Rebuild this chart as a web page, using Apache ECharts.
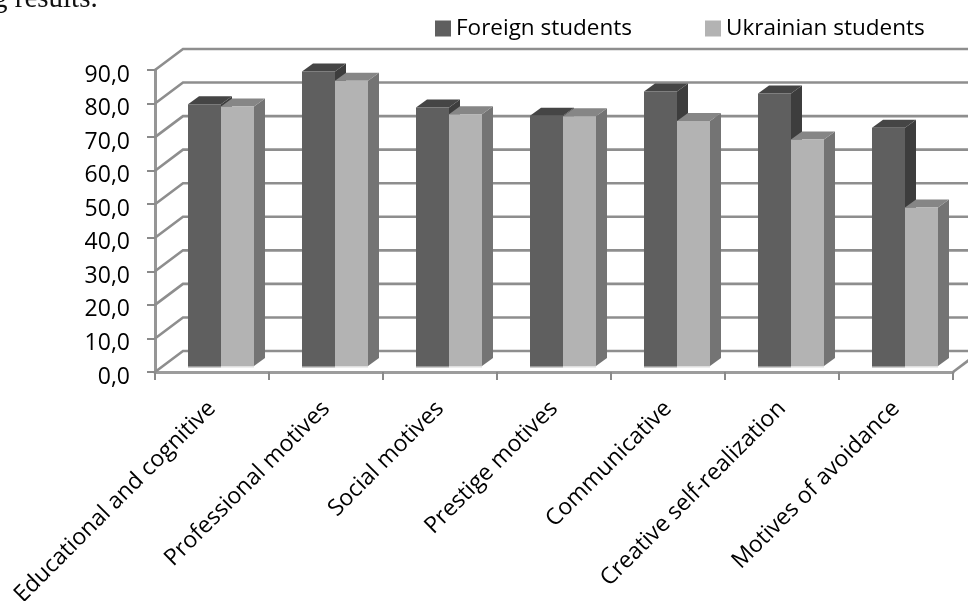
<!DOCTYPE html>
<html><head><meta charset="utf-8">
<style>html,body{margin:0;padding:0;background:#fff}#c{width:968px;height:601px}</style>
<script src="https://cdn.jsdelivr.net/npm/echarts@6/dist/echarts.min.js"></script>
</head><body><div id="c"></div>
<script>
const categories = ['Educational and cognitive','Professional motives','Social motives','Prestige motives','Communicative','Creative self-realization','Motives of avoidance'];
const foreignStudents = [78.0,87.8,77.0,74.6,81.8,81.2,71.0];
const ukrainianStudents = [77.3,85.0,75.0,74.4,73.0,67.5,47.2];
const yTicks = [0,10,20,30,40,50,60,70,80,90];
const seriesNames = ['Foreign students','Ukrainian students'];

const wallDx = 28, wallDy = -21, depthDx = 11, depthDy = -8;
const barW = 33, barShiftX = 9, barShiftY = -6;
const gridColor = '#8e8e8e';

function wall(params, api){
  const y = api.coord([0, api.value(0)])[1];
  const x0 = params.coordSys.x, ex = x0 + params.coordSys.width;
  const kids = [
    {type:'polyline', shape:{points:[[x0,y],[x0+wallDx,y+wallDy],[ex+wallDx,y+wallDy]]},
     style:{stroke:gridColor,lineWidth:2.6,fill:null}}
  ];
  if(api.value(0) === 0){
    kids.push({type:'line',shape:{x1:ex,y1:y,x2:ex+wallDx,y2:y+wallDy},style:{stroke:gridColor,lineWidth:2.6}});
  }
  return {type:'group',children:kids};
}
function barRenderer(seriesIdx, front, top, side){
  return function(params, api){
    const c = api.coord([api.value(0), api.value(1)]);
    const base = api.coord([api.value(0), 0]);
    const x0 = c[0] + barShiftX + (seriesIdx === 0 ? -barW : 0);
    const x1 = x0 + barW;
    const yT = c[1] + barShiftY, yB = base[1] + barShiftY;
    return {type:'group',children:[
      {type:'rect',shape:{x:x0,y:yB,width:barW,height:1.6},style:{fill:seriesIdx===0?'#9a9a9a':'#dedede'}},
      {type:'polygon',shape:{points:[[x1,yT],[x1+depthDx,yT+depthDy],[x1+depthDx,yB+depthDy],[x1,yB]]},style:{fill:side}},
      {type:'polygon',shape:{points:[[x0,yT],[x0+depthDx,yT+depthDy],[x1+depthDx,yT+depthDy],[x1,yT]]},style:{fill:top}},
      {type:'rect',shape:{x:x0,y:yT,width:barW,height:yB-yT},style:{fill:front}}
    ]};
  };
}
const chart = echarts.init(document.getElementById('c'),null,{renderer:'canvas'});
chart.setOption({
  animation:false,
  backgroundColor:'#fff',
  textStyle:{fontFamily:'Open Sans'},
  graphic:[{type:'text',left:-7,top:-15,style:{text:'g results.',font:'29px "Liberation Serif"',fill:'#111'}}],
  legend:{
    left:435,top:17,padding:0,itemWidth:16,itemHeight:16,itemGap:73,icon:'rect',
    data:seriesNames,
    textStyle:{fontFamily:'Open Sans',fontSize:22.5,color:'#000',padding:[0,0,0,0]}
  },
  grid:{left:155,right:15,top:70,bottom:229,containLabel:false,outerBoundsMode:'none'},
  xAxis:{
    type:'category',data:categories,boundaryGap:true,
    axisLine:{show:true,lineStyle:{color:'#9c9c9c',width:3}},
    axisTick:{show:true,alignWithLabel:false,length:8,lineStyle:{color:'#8a8a8a',width:2}},
    axisLabel:{rotate:45,interval:0,fontFamily:'Open Sans',fontSize:23,color:'#000',margin:33}
  },
  yAxis:{
    type:'value',min:0,max:90,interval:10,
    axisLine:{show:true,lineStyle:{color:'#969696',width:3}},
    axisTick:{show:true,length:8,lineStyle:{color:'#8a8a8a',width:2}},
    splitLine:{show:false},
    axisLabel:{fontFamily:'Open Sans',fontSize:23,color:'#000',margin:25,verticalAlign:'top',lineHeight:10,formatter:v=>v.toFixed(1).replace('.',',')}
  },
  series:[
    {type:'custom',name:'wall',silent:true,clip:false,z:1,encode:{y:0},data:yTicks.map(v=>[v]),renderItem:wall},
    {type:'custom',name:seriesNames[0],clip:false,z:2,itemStyle:{color:'#5f5f5f'},encode:{x:0,y:1},
     data:foreignStudents.map((v,i)=>[i,v]),renderItem:barRenderer(0,'#5f5f5f','#454545','#3d3d3d')},
    {type:'custom',name:seriesNames[1],clip:false,z:3,itemStyle:{color:'#b3b3b3'},encode:{x:0,y:1},
     data:ukrainianStudents.map((v,i)=>[i,v]),renderItem:barRenderer(1,'#b3b3b3','#868686','#747474')}
  ]
});
</script></body></html>
